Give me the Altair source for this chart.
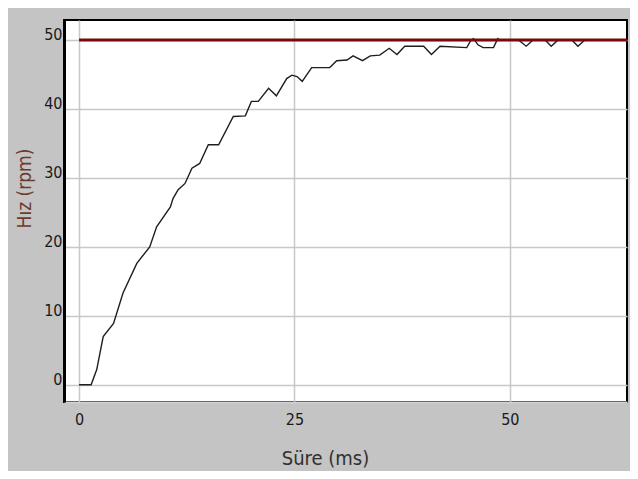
import altair as alt
import pandas as pd

# Speed curve (Süre in ms, Hız in rpm)
sure = [0, 1.4, 2.05, 2.8, 4.0, 5.1, 6.7, 8.2, 9.0, 10.6, 10.9, 11.5, 12.3, 13.1, 14.0, 15.0,
        16.2, 17.9, 19.3, 20.0, 20.8, 22.0, 22.9, 24.1, 24.7, 25.3, 25.9, 27.0, 29.1, 29.9,
        31.1, 31.8, 32.9, 33.8, 34.9, 36.0, 36.9, 37.8, 40.0, 40.9, 41.9, 45.0, 45.5, 45.8,
        46.3, 46.9, 48.1, 48.6, 48.8, 51.0, 51.9, 52.7, 54.1, 54.8, 55.6, 57.2, 57.9, 58.7, 59.2]
hiz = [0, 0, 2.2, 7.0, 8.9, 13.3, 17.6, 20.0, 22.9, 25.8, 27.0, 28.3, 29.2, 31.4, 32.1, 34.8,
       34.8, 38.9, 39.0, 41.1, 41.1, 43.0, 41.9, 44.4, 44.9, 44.7, 44.0, 46.0, 46.0, 47.0,
       47.1, 47.7, 47.0, 47.7, 47.8, 48.8, 47.9, 49.1, 49.1, 47.9, 49.1, 48.9, 50.0, 50.2,
       49.3, 48.9, 48.9, 50.2, 50.0, 50.0, 49.1, 50.0, 50.0, 49.1, 50.0, 50.0, 49.1, 50.0, 50.0]

ref_value = [50]
ref_start = [0]
ref_end = [63.6]

x_ticks = [0, 25, 50]
y_ticks = [0, 10, 20, 30, 40, 50]

x_domain = [-1.75, 63.6]
y_domain = [-2.5, 52.9]

df = pd.DataFrame({"t": sure, "v": hiz})
ref = pd.DataFrame({"y": ref_value, "x": ref_start, "x2": ref_end})

FONT = "Liberation Sans Narrow, DejaVu Sans Condensed, Liberation Sans, sans-serif"

x_scale = alt.Scale(domain=x_domain, nice=False, zero=False)
y_scale = alt.Scale(domain=y_domain, nice=False, zero=False)

x_axis = alt.Axis(
    values=x_ticks, format="d", grid=True, gridColor="#c8c8c8", gridWidth=1.5,
    ticks=False, domain=True, domainColor="#d0d0d0", domainWidth=2, zindex=0,
    labelFont=FONT, labelFontSize=16, labelColor="#1a1a1a", labelPadding=9,
    title="Süre (ms)", titleFont=FONT, titleFontSize=20, titleFontWeight="normal",
    titleColor="#303030", titleX=261, titleY=62, titleAlign="center",
    titleBaseline="alphabetic",
)
y_axis = alt.Axis(
    values=y_ticks, format="d", grid=True, gridColor="#c8c8c8", gridWidth=1.5,
    ticks=False, domain=True, domainColor="black", domainWidth=3,
    labelFont=FONT, labelFontSize=16, labelColor="#1a1a1a", labelPadding=2,
    labelBaseline="alphabetic",
    title="Hız (rpm)", titleFont=FONT, titleFontSize=19, titleFontWeight="normal",
    titleColor="#6e3a2e", titleX=-34, titleY=168, titleAngle=270, titleAlign="center",
    titleBaseline="alphabetic",
)

line = alt.Chart(df).mark_line(color="#1e1e1e", strokeWidth=1.4).encode(
    x=alt.X("t:Q", scale=x_scale, axis=x_axis),
    y=alt.Y("v:Q", scale=y_scale, axis=y_axis),
)

rule = alt.Chart(ref).mark_rule(color="#7a0a0a", strokeWidth=3).encode(
    x=alt.X("x:Q", scale=x_scale),
    x2="x2:Q",
    y=alt.Y("y:Q", scale=y_scale),
)

chart = alt.layer(line, rule).properties(
    width=563, height=382,
    padding={"left": 56, "top": 12, "right": 3, "bottom": 69},
    autosize="none",
    background="#c4c4c4",
).configure_view(fill="white", stroke="black", strokeWidth=2)

chart.save("out.html", embed_options={"renderer": "svg", "actions": False})
